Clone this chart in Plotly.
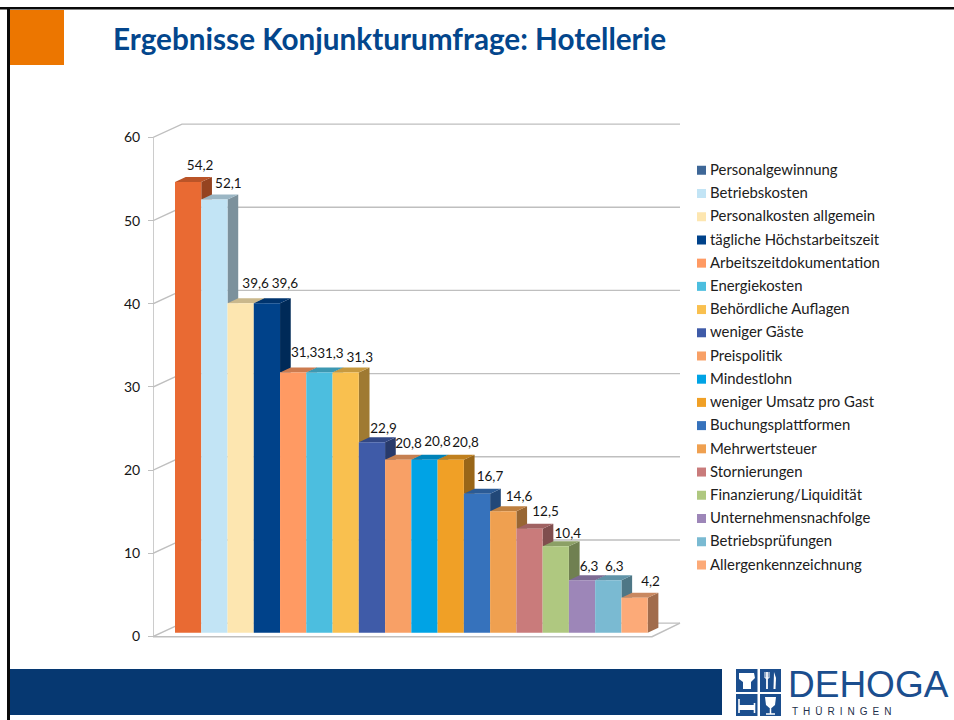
import plotly.graph_objects as go

# ---- data ----
categories = ["Personalgewinnung", "Betriebskosten", "Personalkosten allgemein",
              "tägliche Höchstarbeitszeit", "Arbeitszeitdokumentation", "Energiekosten",
              "Behördliche Auflagen", "weniger Gäste", "Preispolitik", "Mindestlohn",
              "weniger Umsatz pro Gast", "Buchungsplattformen", "Mehrwertsteuer",
              "Stornierungen", "Finanzierung/Liquidität", "Unternehmensnachfolge",
              "Betriebsprüfungen", "Allergenkennzeichnung"]
values = [54.2, 52.1, 39.6, 39.6, 31.3, 31.3, 31.3, 22.9, 20.8, 20.8, 20.8, 16.7,
          14.6, 12.5, 10.4, 6.3, 6.3, 4.2]
bar_colors = ["#E96A33", "#C2E4F5", "#FDE6B0", "#00428A", "#FF9A63", "#4CBEDF",
              "#F9C04F", "#3F5BA8", "#F8A066", "#00A3E5", "#F0A026", "#3672BC",
              "#EFA050", "#C97B7B", "#AFC880", "#9D86B8", "#7ABAD2", "#FCAA78"]
legend_colors = ["#3E6797"] + bar_colors[1:]
y_ticks = [0, 10, 20, 30, 40, 50, 60]

# label nudges (pixels right of the bar centre / above the bar front top)
label_dx = [12, 14, 15, 18, 11, 11, 14, 11.6, 10.3, 13, 14.8, 13, 15.8, 16, 12, 7, 6, 16]
label_dy = [15, 15, 19, 19, 19, 18, 14, 13, 15, 17, 16, 16, 14, 16, 12, 13, 13, 15]

# ---- page geometry ----
W, H = 954, 720
PX_PER_X = 26.26          # one category
PX_PER_Y = 8.317          # one percent
PLOT_L, PLOT_R, PLOT_T, PLOT_B = 153, 682, 118, 642
AXIS_Y0 = 636.5           # pixel of value 0 on the axis plane
BAR0_L = 175              # left edge of first bar
LEGEND_STEP = 23.21       # pixels between legend rows
LEGEND_TEXT_NUDGE = 1.0   # pixels the legend text sits below its swatch centre

def fx(p): return p / W
def fy(p): return 1 - p / H
def x_of(p): return (p - BAR0_L) / PX_PER_X - 0.5
def y_of(p): return (AXIS_Y0 - p) / PX_PER_Y

X0 = x_of(PLOT_L)
WALL_DX, WALL_DY = 29 / PX_PER_X, 13.4 / PX_PER_Y      # depth of the chart box
BASE = 3.8 / PX_PER_Y                                  # bars stand slightly inside the floor
DEPTH_X, DEPTH_Y = 10.7 / PX_PER_X, 5 / PX_PER_Y       # depth of a bar
FLOOR_R = x_of(652)
GRID = "#BFBFBF"

def shade(c, f):
    r, g, b = (int(c[i:i + 2], 16) for i in (1, 3, 5))
    return "#%02X%02X%02X" % (int(r * f), int(g * f), int(b * f))

fig = go.Figure()

# back wall gridlines and their diagonals
for t in y_ticks:
    fig.add_trace(go.Scatter(
        x=[X0, X0 + WALL_DX, x_of(680)], y=[t, t + WALL_DY, t + WALL_DY],
        mode="lines", line=dict(color=GRID, width=1.4), hoverinfo="skip", showlegend=False))
# floor
fig.add_trace(go.Scatter(
    x=[X0, FLOOR_R, x_of(680)], y=[-0.03, -0.03, WALL_DY],
    mode="lines", line=dict(color=GRID, width=1.6), hoverinfo="skip", showlegend=False))
# vertical axis
fig.add_trace(go.Scatter(
    x=[X0, X0], y=[0, 60], mode="lines", line=dict(color=GRID, width=1.6),
    hoverinfo="skip", showlegend=False))

# side and top faces
n = len(values)
for i, (v, c) in enumerate(zip(values, bar_colors)):
    top = v + BASE
    nxt = (values[i + 1] if i + 1 < n else 0) + BASE
    xr = i + 0.5
    fig.add_trace(go.Scatter(
        x=[xr, xr + DEPTH_X, xr + DEPTH_X, xr, xr],
        y=[top, top + DEPTH_Y, nxt + DEPTH_Y * (1 if i + 1 == n else 0), nxt, top],
        mode="lines", fill="toself", fillcolor=shade(c, 0.64), line=dict(width=0),
        hoverinfo="skip", showlegend=False))
    fig.add_trace(go.Scatter(
        x=[i - 0.5, i - 0.5 + DEPTH_X, xr + DEPTH_X, xr, i - 0.5],
        y=[top, top + DEPTH_Y, top + DEPTH_Y, top, top],
        mode="lines", fill="toself", fillcolor=shade(c, 0.8), line=dict(width=0),
        hoverinfo="skip", showlegend=False))

# front faces on an overlaying axis pair, so they sit above the side faces
fig.add_trace(go.Bar(
    x=list(range(n)), y=values, base=BASE, width=1, xaxis="x3", yaxis="y3",
    marker=dict(color=bar_colors, line=dict(width=0)),
    customdata=categories, hovertemplate="%{customdata}: %{y}<extra></extra>", showlegend=False))

# value labels
fig.add_trace(go.Scatter(
    x=[i + d / PX_PER_X for i, d in enumerate(label_dx)],
    y=[v + BASE + d / PX_PER_Y for v, d in zip(values, label_dy)],
    xaxis="x3", yaxis="y3",
    mode="text", text=[f"{v:.1f}".replace(".", ",") for v in values],
    textposition="middle center", textfont=dict(family="Lato", size=13.5, color="#151515"),
    cliponaxis=False, hoverinfo="skip", showlegend=False))

# legend column
fig.add_trace(go.Scatter(
    x=[11.5] * n, y=list(range(n)), xaxis="x2", yaxis="y2", mode="markers",
    marker=dict(symbol="square", size=9, color=legend_colors, line=dict(width=0)),
    hoverinfo="skip", showlegend=False))
fig.add_trace(go.Scatter(
    x=[20] * n, y=[i + LEGEND_TEXT_NUDGE / LEGEND_STEP for i in range(n)],
    xaxis="x2", yaxis="y2", mode="text", text=categories,
    textposition="middle right", textfont=dict(family="Lato", size=14.9, color="#202020"),
    cliponaxis=False, hoverinfo="skip", showlegend=False))

xrange = [x_of(PLOT_L), x_of(PLOT_R)]
yrange = [y_of(PLOT_B), y_of(PLOT_T)]
xdomain = [fx(PLOT_L), fx(PLOT_R)]
ydomain = [fy(PLOT_B), fy(PLOT_T)]

# slide furniture
NAVY = "#063871"
LOGO = "#1B4E8E"
shapes = []
def rect(x0, y0, x1, y1, color):
    shapes.append(dict(type="rect", xref="paper", yref="paper", x0=fx(x0), x1=fx(x1),
                       y0=fy(y1), y1=fy(y0), fillcolor=color, line=dict(width=0), layer="below"))
def path(points, color, width=0, fill=True):
    d = "M" + "L".join(f"{fx(a):.5f},{fy(b):.5f}" for a, b in points) + ("Z" if fill else "")
    shapes.append(dict(type="path", xref="paper", yref="paper", path=d,
                       fillcolor=color if fill else "rgba(0,0,0,0)",
                       line=dict(width=width, color=color)))

rect(0, 7, W, 9.5, "#0A0A0A")
rect(7, 7, 10, H, "#0A0A0A")
rect(10, 10, 64, 65, "#EC7600")
rect(10, 669, 722, 715, NAVY)
rect(736, 669, 757.5, 692, LOGO)
rect(760, 669, 781, 692, LOGO)
rect(736, 694, 757.5, 716, LOGO)
rect(760, 694, 781, 716, LOGO)
# chef's hat
path([(739, 673), (754, 673), (755, 678), (751, 682), (751, 689), (743, 689), (743, 682), (739, 679)], "#FFFFFF")
# fork and knife
path([(767, 672), (767, 689)], "#FFFFFF", 1.8, False)
path([(765, 672), (765, 678), (769, 678), (769, 672)], "#FFFFFF", 1, False)
path([(774, 672), (776, 678), (775.5, 689), (773.5, 689)], "#FFFFFF")
# bed
path([(739, 699), (739, 713)], "#FFFFFF", 1.6, False)
path([(754.5, 703), (754.5, 713)], "#FFFFFF", 1.6, False)
path([(739, 705), (754.5, 705), (754.5, 710), (739, 710)], "#FFFFFF")
# glass
path([(765, 697), (776, 697), (775, 705), (771.5, 708), (769.5, 708), (766, 705)], "#FFFFFF", 0)
path([(770.5, 708), (770.5, 714)], "#FFFFFF", 1.5, False)
path([(766, 714), (775, 714)], "#FFFFFF", 1.5, False)

annotations = [
    dict(text="DEHOGA", xref="paper", yref="paper", x=fx(786), y=fy(684.5), xanchor="left",
         yanchor="middle", showarrow=False, font=dict(family="Liberation Sans", size=37, color=LOGO)),
    dict(text="T\u2002H\u2002Ü\u2002R\u2002I\u2002N\u2002G\u2002E\u2002N", xref="paper", yref="paper",
         x=fx(790), y=fy(711.5), xanchor="left", yanchor="middle", showarrow=False,
         font=dict(family="Liberation Sans", size=10, color="#1E2F4A")),
]

fig.update_layout(
    template="none",
    width=W, height=H, autosize=False, margin=dict(l=0, r=0, t=0, b=0, autoexpand=False),
    paper_bgcolor="#FFFFFF", plot_bgcolor="rgba(0,0,0,0)", showlegend=False, barmode="overlay",
    font=dict(family="Lato", size=14, color="#151515"),
    title=dict(text="<b>Ergebnisse Konjunkturumfrage: Hotellerie</b>", x=113 / W, xanchor="left",
               xref="container", y=fy(40), yanchor="middle", yref="container", automargin=False,
               font=dict(family="Lato", size=29.7, color="#03468C")),
    xaxis=dict(domain=xdomain, range=xrange, visible=False, fixedrange=True, automargin=False),
    yaxis=dict(domain=ydomain, range=yrange, anchor="free", position=xdomain[0],
               showgrid=False, zeroline=False, showline=False, automargin=False,
               tickmode="array", tickvals=y_ticks, ticks="outside", ticklen=5, tickwidth=1.4,
               tickcolor=GRID, ticklabelstandoff=5,
               tickfont=dict(family="Lato", size=14, color="#151515"), fixedrange=True),
    xaxis3=dict(domain=xdomain, range=xrange, visible=False, fixedrange=True, anchor="y3", automargin=False),
    yaxis3=dict(domain=ydomain, range=yrange, visible=False, fixedrange=True, anchor="x3", automargin=False),
    xaxis2=dict(domain=[fx(690), fx(900)], range=[0, 210], visible=False, fixedrange=True, anchor="y2", automargin=False),
    yaxis2=dict(domain=[fy(170.3 + LEGEND_STEP * 17.5), fy(170.3 - LEGEND_STEP * 0.5)], range=[17.5, -0.5],
                visible=False, fixedrange=True, anchor="x2", automargin=False),
    shapes=shapes, annotations=annotations,
)

fig.write_html("out.html", config=dict(displayModeBar=False),
               post_script="document.body.style.margin='0';document.documentElement.style.overflow='hidden';")
